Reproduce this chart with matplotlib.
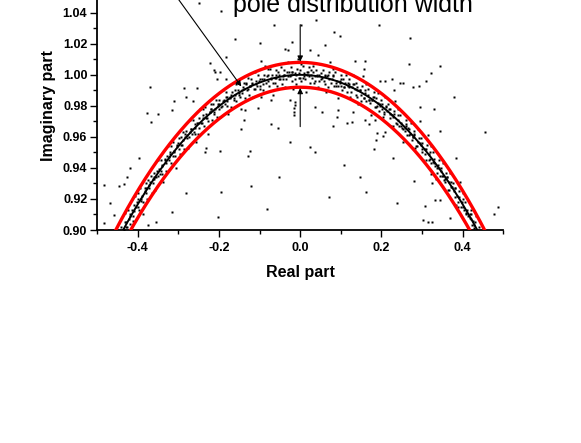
import numpy as np
import matplotlib
matplotlib.use("Agg")
import matplotlib.pyplot as plt
from matplotlib.ticker import MultipleLocator, FormatStrFormatter

# ---------------- data ----------------
# radii of the reference circle (black) and width band (red)
center_radius = 1.0
band_radii = [0.992, 1.008]

# dense cloud of poles near the unit circle
band_x = [
 -0.454,-0.451,-0.448,-0.446, -0.443,-0.440,-0.437,-0.439, -0.434,-0.431,-0.428,-0.426,
 -0.423,-0.420,-0.417,-0.419, -0.414,-0.411,-0.408,-0.406, -0.403,-0.400,-0.397,-0.399,
 -0.394,-0.391,-0.388,-0.386, -0.383,-0.380,-0.377,-0.379, -0.374,-0.371,-0.368,-0.366,
 -0.363,-0.360,-0.357,-0.359, -0.354,-0.351,-0.348,-0.346, -0.343,-0.340,-0.337,-0.339,
 -0.334,-0.331,-0.328,-0.326, -0.323,-0.320,-0.317,-0.319, -0.314,-0.311,-0.308,-0.306,
 -0.303,-0.300,-0.297,-0.299, -0.294,-0.291,-0.288,-0.286, -0.283,-0.280,-0.277,-0.279,
 -0.274,-0.271,-0.268,-0.266, -0.263,-0.260,-0.257,-0.259, -0.254,-0.251,-0.248,-0.246,
 -0.243,-0.240,-0.237,-0.239, -0.234,-0.231,-0.228,-0.226, -0.223,-0.220,-0.217,-0.219,
 -0.214,-0.211,-0.208,-0.206, -0.203,-0.200,-0.197,-0.199, -0.194,-0.191,-0.188,-0.186,
 -0.183,-0.180,-0.177,-0.179, -0.174,-0.171,-0.168,-0.166, -0.163,-0.160,-0.157,-0.159,
 -0.154,-0.151,-0.148,-0.146, -0.143,-0.140,-0.137,-0.139, -0.134,-0.131,-0.128,-0.126,
 -0.123,-0.120,-0.117,-0.119, -0.114,-0.111,-0.108,-0.106, -0.103,-0.100,-0.097,-0.099,
 -0.094,-0.091,-0.088,-0.086, -0.083,-0.080,-0.077,-0.079, -0.074,-0.071,-0.068,-0.066,
 -0.063,-0.060,-0.057,-0.059, -0.054,-0.051,-0.048,-0.046, -0.043,-0.040,-0.037,-0.039,
 -0.034,-0.031,-0.028,-0.026, -0.023,-0.020,-0.017,-0.019, -0.014,-0.011,-0.008,-0.006,
 -0.003, 0.000, 0.003, 0.001,  0.006, 0.009, 0.012, 0.014,  0.017, 0.020, 0.023, 0.021,
  0.026, 0.029, 0.032, 0.034,  0.037, 0.040, 0.043, 0.041,  0.046, 0.049, 0.052, 0.054,
  0.057, 0.060, 0.063, 0.061,  0.066, 0.069, 0.072, 0.074,  0.077, 0.080, 0.083, 0.081,
  0.086, 0.089, 0.092, 0.094,  0.097, 0.100, 0.103, 0.101,  0.106, 0.109, 0.112, 0.114,
  0.117, 0.120, 0.123, 0.121,  0.126, 0.129, 0.132, 0.134,  0.137, 0.140, 0.143, 0.141,
  0.146, 0.149, 0.152, 0.154,  0.157, 0.160, 0.163, 0.161,  0.166, 0.169, 0.172, 0.174,
  0.177, 0.180, 0.183, 0.181,  0.186, 0.189, 0.192, 0.194,  0.197, 0.200, 0.203, 0.201,
  0.206, 0.209, 0.212, 0.214,  0.217, 0.220, 0.223, 0.221,  0.226, 0.229, 0.232, 0.234,
  0.237, 0.240, 0.243, 0.241,  0.246, 0.249, 0.252, 0.254,  0.257, 0.260, 0.263, 0.261,
  0.266, 0.269, 0.272, 0.274,  0.277, 0.280, 0.283, 0.281,  0.286, 0.289, 0.292, 0.294,
  0.297, 0.300, 0.303, 0.301,  0.306, 0.309, 0.312, 0.314,  0.317, 0.320, 0.323, 0.321,
  0.326, 0.329, 0.332, 0.334,  0.337, 0.340, 0.343, 0.341,  0.346, 0.349, 0.352, 0.354,
  0.357, 0.360, 0.363, 0.361,  0.366, 0.369, 0.372, 0.374,  0.377, 0.380, 0.383, 0.381,
  0.386, 0.389, 0.392, 0.394,  0.397, 0.400, 0.403, 0.401,  0.406, 0.409, 0.412, 0.414,
  0.417, 0.420, 0.423, 0.421,  0.426, 0.429, 0.432, 0.434,  0.437, 0.440, 0.443, 0.441,
  0.446, 0.449, 0.452, 0.454,
]
band_y = [
 0.896,0.891,0.899,0.888, 0.898,0.902,0.891,0.899, 0.900,0.911,0.905,0.902,
 0.913,0.904,0.899,0.910, 0.913,0.906,0.916,0.922, 0.915,0.920,0.913,0.924,
 0.927,0.920,0.918,0.910, 0.925,0.927,0.920,0.930, 0.932,0.927,0.935,0.924,
 0.933,0.937,0.926,0.934, 0.934,0.945,0.939,0.936, 0.945,0.936,0.931,0.942,
 0.945,0.938,0.948,0.954, 0.945,0.950,0.943,0.954, 0.957,0.950,0.948,0.940,
 0.954,0.956,0.949,0.959, 0.960,0.955,0.963,0.952, 0.960,0.964,0.953,0.961,
 0.960,0.971,0.965,0.962, 0.971,0.962,0.957,0.968, 0.969,0.962,0.972,0.978,
 0.969,0.974,0.967,0.978, 0.979,0.972,0.970,0.962, 0.976,0.978,0.971,0.981,
 0.981,0.976,0.984,0.973, 0.980,0.984,0.973,0.981, 0.979,0.990,0.984,0.981,
 0.989,0.980,0.975,0.986, 0.986,0.979,0.989,0.995, 0.985,0.990,0.983,0.994,
 0.995,0.988,0.986,0.978, 0.990,0.992,0.985,0.995, 0.995,0.990,0.998,0.987,
 0.993,0.997,0.986,0.994, 0.991,1.002,0.996,0.993, 1.000,0.991,0.986,0.997,
 0.997,0.990,1.000,1.006, 0.995,1.000,0.993,1.004, 1.004,0.997,0.995,0.987,
 0.998,1.000,0.993,1.003, 1.002,0.997,1.005,0.994, 0.999,1.003,0.992,1.000,
 0.997,1.008,1.002,0.999, 1.005,0.996,0.991,1.002, 1.001,0.994,1.004,1.010,
 0.998,1.003,0.996,1.007, 1.006,0.999,0.997,0.989, 1.000,1.002,0.995,1.005,
 1.003,0.998,1.006,0.995, 0.999,1.003,0.992,1.000, 0.996,1.007,1.001,0.998,
 1.003,0.994,0.989,1.000, 0.999,0.992,1.002,1.008, 0.995,1.000,0.993,1.004,
 1.002,0.995,0.993,0.985, 0.995,0.997,0.990,1.000, 0.997,0.992,1.000,0.989,
 0.993,0.997,0.986,0.994, 0.989,1.000,0.994,0.991, 0.995,0.986,0.981,0.992,
 0.990,0.983,0.993,0.999, 0.985,0.990,0.983,0.994, 0.991,0.984,0.982,0.974,
 0.984,0.986,0.979,0.989, 0.985,0.980,0.988,0.977, 0.980,0.984,0.973,0.981,
 0.975,0.986,0.980,0.977, 0.981,0.972,0.967,0.978, 0.974,0.967,0.977,0.983,
 0.969,0.974,0.967,0.978, 0.974,0.967,0.965,0.957, 0.966,0.968,0.961,0.971,
 0.966,0.961,0.969,0.958, 0.960,0.964,0.953,0.961, 0.954,0.965,0.959,0.956,
 0.959,0.950,0.945,0.956, 0.952,0.945,0.955,0.961, 0.945,0.950,0.943,0.954,
 0.950,0.943,0.941,0.933, 0.940,0.942,0.935,0.945, 0.940,0.935,0.943,0.932,
 0.933,0.937,0.926,0.934, 0.926,0.937,0.931,0.928, 0.930,0.921,0.916,0.927,
 0.922,0.915,0.925,0.931, 0.915,0.920,0.913,0.924, 0.918,0.911,0.909,0.901,
 0.908,0.910,0.903,0.913, 0.906,0.901,0.909,0.898, 0.898,0.902,0.891,0.899,
 0.890,0.901,0.895,0.892,
]

# tight core of poles hugging the unit circle
core_x = [
 -0.4395,-0.4425, -0.4295,-0.4325, -0.4195,-0.4225, -0.4095,-0.4125, -0.3995,-0.4025,
 -0.3895,-0.3925, -0.3795,-0.3825, -0.3695,-0.3725, -0.3595,-0.3625, -0.3495,-0.3525,
 -0.3395,-0.3425, -0.3295,-0.3325, -0.3195,-0.3225, -0.3095,-0.3125, -0.2995,-0.3025,
 -0.2895,-0.2925, -0.2795,-0.2825, -0.2695,-0.2725, -0.2595,-0.2625, -0.2495,-0.2525,
 -0.2395,-0.2425, -0.2295,-0.2325, -0.2195,-0.2225, -0.2095,-0.2125, -0.1995,-0.2025,
 -0.1895,-0.1925, -0.1795,-0.1825, -0.1695,-0.1725, -0.1595,-0.1625, -0.1495,-0.1525,
 -0.1395,-0.1425, -0.1295,-0.1325, -0.1195,-0.1225, -0.1095,-0.1125, -0.0995,-0.1025,
 -0.0895,-0.0925, -0.0795,-0.0825, -0.0695,-0.0725, -0.0595,-0.0625, -0.0495,-0.0525,
 -0.0395,-0.0425, -0.0295,-0.0325, -0.0195,-0.0225, -0.0095,-0.0125,  0.0005,-0.0025,
  0.0105, 0.0075,  0.0205, 0.0175,  0.0305, 0.0275,  0.0405, 0.0375,  0.0505, 0.0475,
  0.0605, 0.0575,  0.0705, 0.0675,  0.0805, 0.0775,  0.0905, 0.0875,  0.1005, 0.0975,
  0.1105, 0.1075,  0.1205, 0.1175,  0.1305, 0.1275,  0.1405, 0.1375,  0.1505, 0.1475,
  0.1605, 0.1575,  0.1705, 0.1675,  0.1805, 0.1775,  0.1905, 0.1875,  0.2005, 0.1975,
  0.2105, 0.2075,  0.2205, 0.2175,  0.2305, 0.2275,  0.2405, 0.2375,  0.2505, 0.2475,
  0.2605, 0.2575,  0.2705, 0.2675,  0.2805, 0.2775,  0.2905, 0.2875,  0.3005, 0.2975,
  0.3105, 0.3075,  0.3205, 0.3175,  0.3305, 0.3275,  0.3405, 0.3375,  0.3505, 0.3475,
  0.3605, 0.3575,  0.3705, 0.3675,  0.3805, 0.3775,  0.3905, 0.3875,  0.4005, 0.3975,
  0.4105, 0.4075,  0.4205, 0.4175,  0.4305, 0.4275,  0.4405, 0.4375,
]
core_y = [
 0.899,0.896, 0.902,0.905, 0.909,0.907, 0.912,0.909, 0.915,0.918,
 0.922,0.919, 0.924,0.927, 0.931,0.929, 0.933,0.930, 0.935,0.938,
 0.941,0.938, 0.943,0.946, 0.949,0.947, 0.951,0.948, 0.952,0.955,
 0.958,0.955, 0.959,0.962, 0.965,0.963, 0.966,0.963, 0.966,0.969,
 0.972,0.969, 0.972,0.975, 0.978,0.976, 0.978,0.975, 0.978,0.981,
 0.983,0.980, 0.983,0.986, 0.987,0.985, 0.987,0.984, 0.987,0.990,
 0.991,0.988, 0.991,0.994, 0.995,0.993, 0.994,0.991, 0.993,0.996,
 0.997,0.994, 0.996,0.999, 1.000,0.998, 0.998,0.995, 0.997,1.000,
 1.000,0.997, 0.999,1.002, 1.002,1.000, 1.000,0.997, 0.998,1.001,
 1.001,0.998, 0.999,1.002, 1.002,1.000, 0.999,0.996, 0.997,1.000,
 0.999,0.996, 0.997,1.000, 0.999,0.997, 0.996,0.993, 0.993,0.996,
 0.995,0.992, 0.992,0.995, 0.994,0.992, 0.990,0.987, 0.987,0.990,
 0.988,0.985, 0.984,0.987, 0.986,0.984, 0.982,0.979, 0.978,0.981,
 0.979,0.976, 0.975,0.978, 0.975,0.973, 0.971,0.968, 0.966,0.969,
 0.967,0.964, 0.962,0.965, 0.962,0.960, 0.957,0.954, 0.952,0.955,
 0.952,0.949, 0.946,0.949, 0.946,0.944, 0.940,0.937, 0.935,0.938,
 0.934,0.931, 0.928,0.931, 0.927,0.925, 0.921,0.918, 0.915,0.918,
 0.913,0.910, 0.907,0.910, 0.905,0.903, 0.898,0.895,
]

# scattered poles away from the circle
outlier_x = [
 -0.250,-0.194,-0.161,-0.183,-0.223,-0.212,-0.209,-0.198,-0.204,-0.182,
 -0.369,-0.285,-0.254,-0.281,-0.311,-0.264,-0.316,-0.378,-0.349,-0.064,
  0.002, 0.038,-0.100,-0.019,-0.038,-0.030, 0.082, 0.098, 0.061, 0.024,
  0.044,-0.096, 0.135, 0.160, 0.158,-0.137,-0.104,-0.071,-0.024,-0.015,
 -0.015,-0.015, 0.036, 0.053, 0.094, 0.131, 0.193, 0.271, 0.269, 0.343,
  0.322, 0.309, 0.293, 0.278, 0.246, 0.252, 0.225, 0.209, 0.197, 0.378,
  0.296, 0.330, 0.230,-0.138,-0.145,-0.071,-0.054,-0.025,-0.123,-0.129,
 -0.052,-0.120,-0.082, 0.025, 0.037, 0.091, 0.080, 0.114, 0.128, 0.160,
  0.169, 0.184, 0.188, 0.186, 0.182, 0.109, 0.147, 0.162, 0.072,-0.482,
 -0.484,-0.469,-0.458,-0.445,-0.433,-0.420,-0.398,-0.426,-0.367,-0.281,
 -0.316,-0.375,-0.355,-0.202,-0.196,-0.235,-0.231, 0.228, 0.238, 0.279,
  0.302, 0.314, 0.308, 0.324, 0.454, 0.477, 0.487, 0.383, 0.343, 0.296,
  0.205, 0.209, 0.322, 0.324, 0.368, 0.333, 0.345,-0.198,-0.014,-0.014,
]
outlier_y = [
 1.0463,1.0413,1.0230,1.0118,1.0075,1.0028,1.0015,1.0015,0.9972,0.9972,
 0.9921,0.9918,0.9918,0.9860,0.9834,0.9834,0.9774,0.9753,0.9748,1.0318,
 1.0318,1.0355,1.0208,1.0211,1.0166,1.0157,1.0277,1.0252,1.0194,1.0161,
 1.0129,1.0086,1.0086,1.0090,1.0037,0.9774,0.9785,0.9839,0.9839,0.9785,
 0.9763,0.9742,0.9795,0.9763,0.9774,0.9763,1.0323,1.0237,1.0069,1.0060,
 1.0011,0.9959,0.9925,0.9921,0.9946,0.9946,0.9974,0.9959,0.9959,0.9856,
 0.9795,0.9779,0.9903,0.9708,0.9652,0.9686,0.9660,0.9568,0.9510,0.9477,
 0.9344,0.9282,0.9135,0.9537,0.9503,0.9725,0.9669,0.9688,0.9695,0.9708,
 0.9684,0.9708,0.9624,0.9581,0.9523,0.9417,0.9340,0.9245,0.9213,0.9290,
 0.9043,0.9172,0.9097,0.9284,0.9297,0.9398,0.9466,0.9344,0.9699,0.9241,
 0.9118,0.9032,0.9054,0.9082,0.9243,0.9505,0.9527,0.9463,0.9176,0.9318,
 0.9063,0.9054,0.9155,0.9054,0.9634,0.9103,0.9150,0.9463,0.9639,0.9703,
 0.9608,0.9634,0.9359,0.9301,0.9075,0.9194,0.9194,0.9512,0.9807,0.9828,
]

x_ticks = [-0.4, -0.2, 0.0, 0.2, 0.4]
y_ticks = [0.90, 0.92, 0.94, 0.96, 0.98, 1.00, 1.02, 1.04]

annot_text = "pole distribution width"

# ---------------- figure ----------------
plt.rcParams['font.family'] = ['Liberation Sans', 'DejaVu Sans']

fig = plt.figure(figsize=(5.81, 4.43), dpi=100)
ax = fig.add_axes([0.1671, 0.4808, 0.6992, 0.5605])

for xs, ys in [(band_x, band_y), (core_x, core_y), (outlier_x, outlier_y)]:
    ax.plot(xs, ys, 's', ms=1.9, mec='none', color='black', zorder=3,
            antialiased=False)

xx = np.linspace(-0.5, 0.5, 801)
for r in band_radii:
    ax.plot(xx, np.sqrt(np.clip(r**2 - xx**2, 0, None)), color='#ff0000', lw=2.4, zorder=4)
ax.plot(xx, np.sqrt(np.clip(center_radius**2 - xx**2, 0, None)), color='black', lw=1.4, zorder=5)

ax.set_xlim(-0.5, 0.5)
ax.set_ylim(0.90, 1.06)

ax.xaxis.set_major_locator(plt.FixedLocator(x_ticks))
ax.xaxis.set_minor_locator(MultipleLocator(0.1))
ax.yaxis.set_major_locator(plt.FixedLocator(y_ticks))
ax.yaxis.set_minor_locator(MultipleLocator(0.01))
ax.xaxis.set_major_formatter(FormatStrFormatter('%.1f'))
ax.yaxis.set_major_formatter(FormatStrFormatter('%.2f'))

for s in ['top', 'right']:
    ax.spines[s].set_visible(False)
for s in ['left', 'bottom']:
    ax.spines[s].set_linewidth(1.3)

ax.tick_params(which='major', direction='out', length=5, width=1.0, labelsize=9)
ax.tick_params(which='minor', direction='out', length=3, width=1.0)
ax.tick_params(axis='x', which='major', pad=3.5)
ax.tick_params(axis='y', which='major', pad=2)
for lab in ax.get_xticklabels() + ax.get_yticklabels():
    lab.set_fontweight('bold')

ax.set_xlabel('Real part', fontsize=11.5, fontweight='bold', labelpad=8)
ax.set_ylabel('Imaginary part', fontsize=11.5, fontweight='bold', labelpad=5)

# annotation
ax.text(0.131, 1.0403, annot_text, fontsize=18, ha='center', va='baseline',
        clip_on=False, zorder=6)
arrow_kw = dict(arrowstyle='-|>', lw=0.8, color='black', mutation_scale=8,
                shrinkA=0, shrinkB=0)
ax.annotate('', xy=(-0.145, 0.9925), xytext=(-0.331, 1.060),
            arrowprops=arrow_kw, annotation_clip=False, zorder=6)
ax.annotate('', xy=(0.0, 1.0085), xytext=(0.0, 1.0323),
            arrowprops=arrow_kw, zorder=6)
ax.annotate('', xy=(0.0, 0.9915), xytext=(0.0, 0.9666),
            arrowprops=arrow_kw, zorder=6)

fig.savefig('out.png', dpi=100)
